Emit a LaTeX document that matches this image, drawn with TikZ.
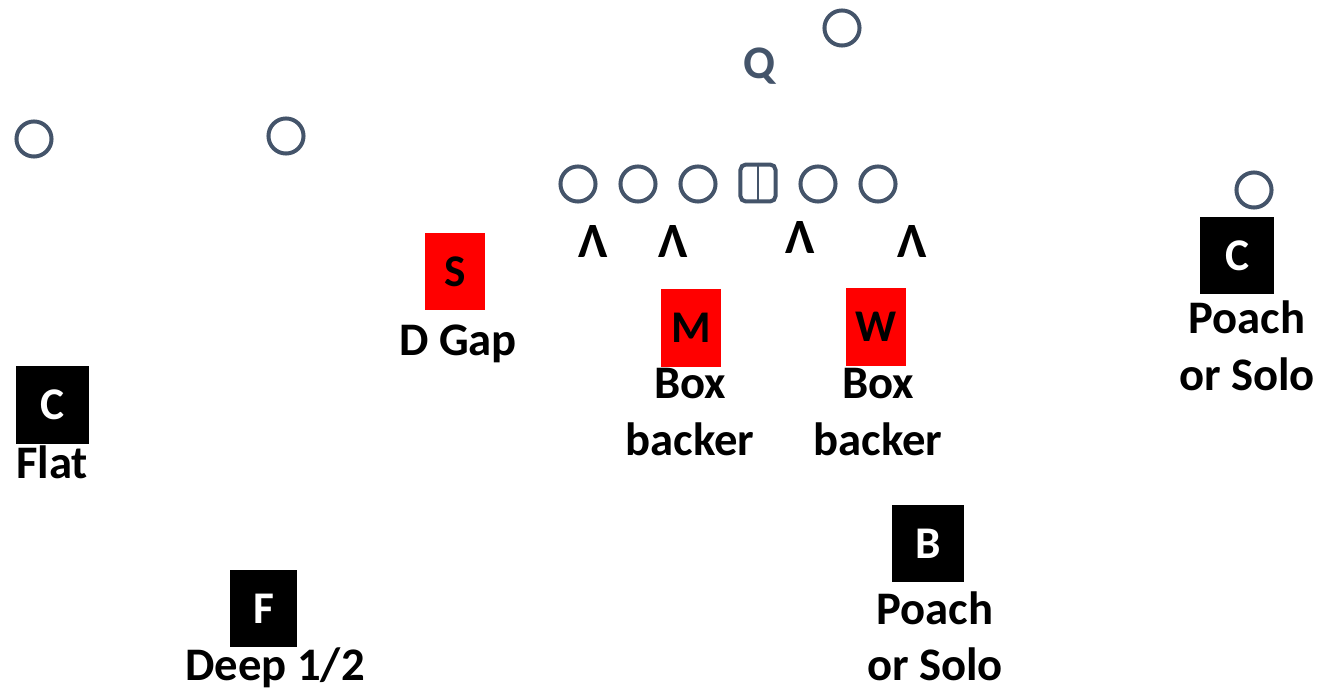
\documentclass[tikz,border=0pt]{standalone}
\usepackage{fontspec}
\setmainfont{Carlito}
\usepackage{tikz}
\usetikzlibrary{positioning}
\definecolor{slate}{HTML}{44546A}
\definecolor{boxred}{RGB}{255,0,0}
\tikzset{
  player/.style={circle, draw=slate, line width=3pt, minimum size=26.3pt, inner sep=0pt},
  snapper/.style={draw=slate, line width=3pt, rounded corners=4pt, minimum width=26.3pt,
                  minimum height=27.7pt, inner sep=0pt},
  defbox/.style={minimum width=45pt, minimum height=58pt, inner sep=0pt,
                 font=\fontsize{34}{40}\selectfont\bfseries},
  redbox/.style={defbox, fill=boxred, text=black},
  blackbox/.style={defbox, fill=black, text=white, minimum width=55pt},
  job/.style={font=\fontsize{35}{42.75}\selectfont\bfseries, align=center, inner sep=0pt, anchor=base},
  gapmark/.style={font=\fontsize{37}{40}\selectfont\bfseries, inner sep=0pt},
  qb/.style={font=\fontsize{35}{38}\selectfont\bfseries, text=slate, inner sep=0pt}
}

\begin{document}
\begin{tikzpicture}[x=0.75pt, y=-0.75pt]
  \useasboundingbox (0,0) rectangle (1322,691);
  % offense
  \foreach \x/\n in {578/lt, 638/lg, 698/lc, 818/rg, 878/rt}
    \node[player] (\n) at (\x,184) {};
  \node[snapper] (ctr) at (758,183) {};
  \draw[slate, line width=1pt] (ctr.north) -- (ctr.south);
  \node[player] (qbx) at (842,28) {};
  \node[qb] (q) at (760,66) {Q};
  \node[player] (wl) at (34,139) {};
  \node[player] (sl) at (286,136) {};
  \node[player] (wr) at (1254,190) {};
  % gap marks
  \node[gapmark] (g1) at (593,242) {Λ};
  \node[gapmark] (g2) at (673,242) {Λ};
  \node[gapmark] (g3) at (800,238) {Λ};
  \node[gapmark] (g4) at (912,242) {Λ};
  % defense
  \node[redbox] (s) at (455,271.5) {S};
  \node[redbox] (m) at (691,328) {M};
  \node[redbox] (w) at (876,327) {W};
  \node[blackbox] (cr) at (1237,255.5) {C};
  \node[blackbox, minimum width=54.5pt] (cl) at (52.5,405) {C};
  \node[blackbox, minimum width=50pt] (f) at (263.5,608.5) {F};
  \node[blackbox, minimum width=54.5pt] (b) at (928,543.5) {B};
  % jobs
  \node[job] (sjob) at (458,356) {D Gap};
  \node[job] (mjob) at (690,456) {Box\\backer};
  \node[job] (wjob) at (878,456) {Box\\backer};
  \node[job] (crjob) at (1247,391) {Poach\\or Solo};
  \node[job] (cljob) at (52,479) {Flat};
  \node[job] (fjob) at (275,681) {Deep 1/2};
  \node[job] (bjob) at (935,681) {Poach\\or Solo};
\end{tikzpicture}
\end{document}
